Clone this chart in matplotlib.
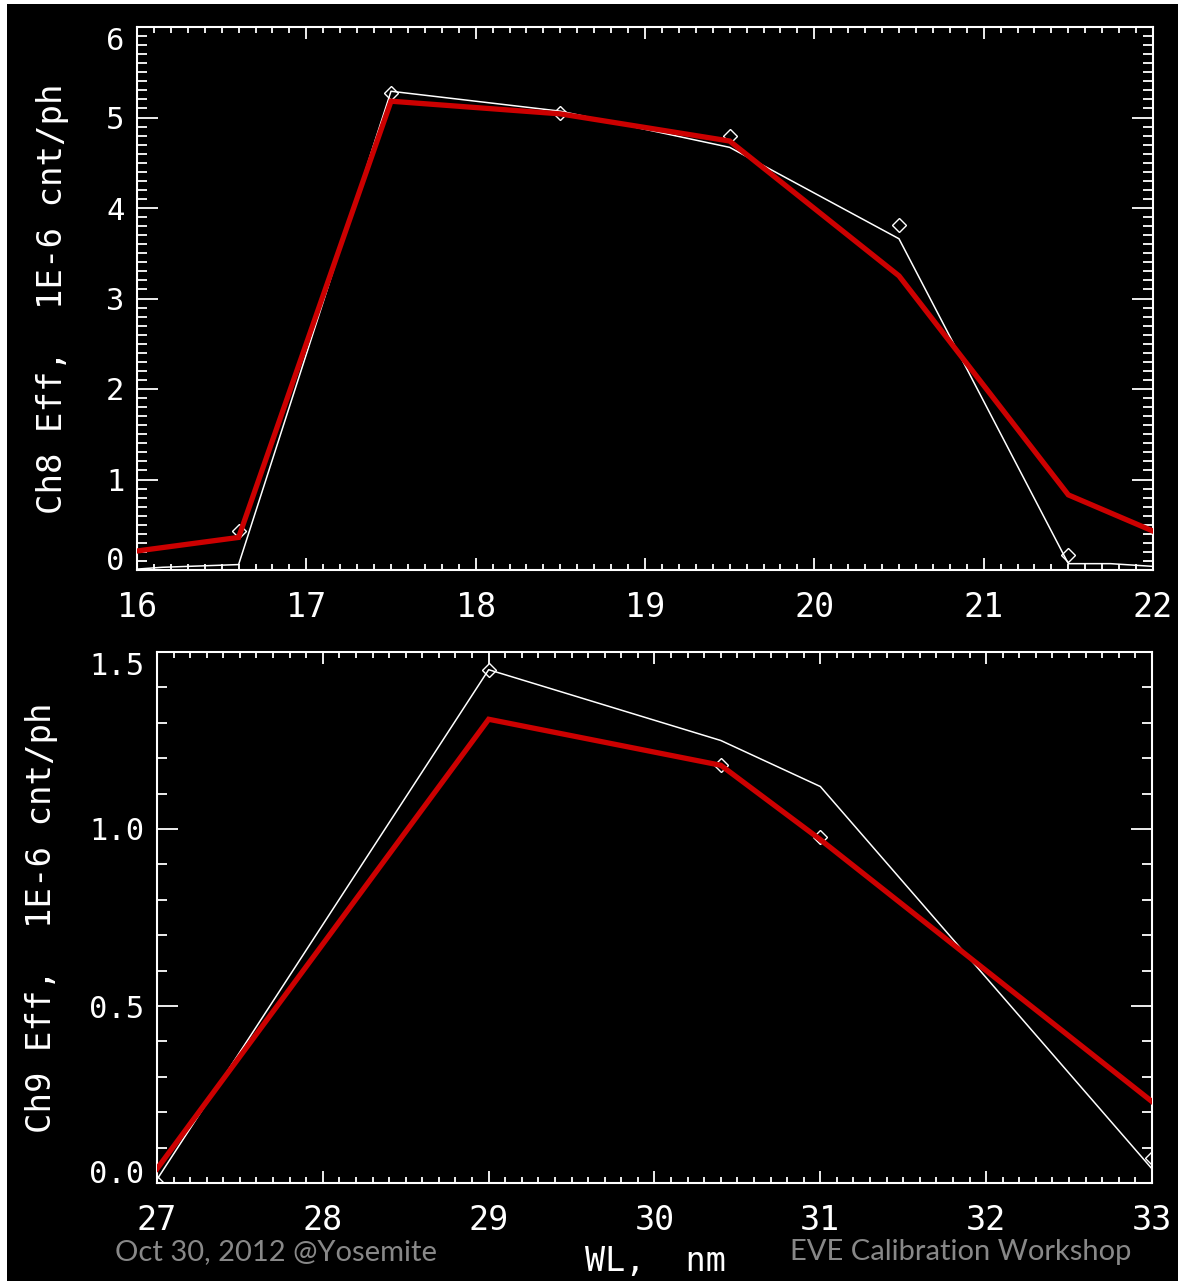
import matplotlib
matplotlib.use("Agg")
import matplotlib.pyplot as plt
from matplotlib.ticker import MultipleLocator
from matplotlib.patches import Rectangle

# ---- Channel 8 efficiency (upper panel) ----
ch8_model_wl = [16.0, 16.15, 16.45, 16.6, 17.5, 18.5, 19.5, 20.5, 21.5, 21.75, 22.0]
ch8_model_eff = [0.01, 0.03, 0.05, 0.06, 5.29, 5.07, 4.67, 3.66, 0.07, 0.07, 0.04]
ch8_meas_wl = [16.6, 17.5, 18.5, 19.5, 20.5, 21.5]
ch8_meas_eff = [0.43, 5.27, 5.05, 4.80, 3.81, 0.17]
ch8_fit_wl = [16.0, 16.6, 17.5, 18.5, 19.5, 20.5, 21.5, 22.0]
ch8_fit_eff = [0.21, 0.36, 5.18, 5.04, 4.74, 3.25, 0.83, 0.43]
ch8_xticks = [16, 17, 18, 19, 20, 21, 22]
ch8_yticks = [0, 1, 2, 3, 4, 5, 6]

# ---- Channel 9 efficiency (lower panel) ----
ch9_model_wl = [27.0, 29.0, 30.4, 31.0, 33.0]
ch9_model_eff = [0.01, 1.45, 1.25, 1.12, 0.04]
ch9_meas_wl = [27.0, 29.0, 30.4, 31.0, 33.0]
ch9_meas_eff = [0.00, 1.45, 1.18, 0.977, 0.07]
ch9_fit_wl = [27.0, 29.0, 30.4, 31.0, 33.0]
ch9_fit_eff = [0.04, 1.31, 1.18, 0.97, 0.23]
ch9_xticks = [27, 28, 29, 30, 31, 32, 33]
ch9_yticks = [0.0, 0.5, 1.0, 1.5]

ch8_label = "Ch8 Eff,  1E-6 cnt/ph"
ch9_label = "Ch9 Eff,  1E-6 cnt/ph"
x_label = "WL,  nm"
footer_left = "Oct 30, 2012 @Yosemite"
footer_right = "EVE Calibration Workshop"

W, H = 1178, 1285
fig = plt.figure(figsize=(W / 100, H / 100), dpi=100, facecolor="white")
fig.patches.append(Rectangle((7 / W, 4 / H), 1 - 7 / W, 1 - 8 / H,
                             transform=fig.transFigure, facecolor="black",
                             edgecolor="none", zorder=-10))

MONO = "DejaVu Sans Mono"
RED = "#cc0000"


def panel(rect, xticks, yticks, yfmt, ylabel, ylabel_x):
    ax = fig.add_axes(rect)
    ax.set_facecolor("black")
    ax.set_xlim(xticks[0], xticks[-1])
    ax.set_ylim(yticks[0], yticks[-1])
    ax.set_xticks(xticks)
    ax.set_yticks(yticks)
    ax.xaxis.set_minor_locator(MultipleLocator(0.1))
    ax.yaxis.set_minor_locator(MultipleLocator(0.1))
    for s in ax.spines.values():
        s.set_color("white")
        s.set_linewidth(1.5)
    ax.tick_params(which="both", direction="in", top=True, right=True,
                   colors="white", width=1.3)
    ax.tick_params(axis="x", which="major", length=8.4, pad=15, labelsize=24)
    ax.tick_params(axis="x", which="minor", length=4.2)
    ax.tick_params(axis="y", which="major", length=15, pad=9, labelsize=22)
    ax.tick_params(axis="y", which="minor", length=7.5)
    ax.yaxis.set_major_formatter(yfmt)
    for lab in ax.get_xticklabels() + ax.get_yticklabels():
        lab.set_family(MONO)
    ticks = ax.yaxis.get_major_ticks()
    ticks[0].label1.set_va("baseline")
    ticks[-1].label1.set_va("top")
    ax.set_ylabel(ylabel, color="white", fontsize=24.5, family=MONO)
    ax.yaxis.set_label_coords(ylabel_x, 0.5)
    return ax


# upper panel
ax1 = panel([137 / W, 1 - 570 / H, 1016 / W, 543 / H], ch8_xticks, ch8_yticks,
            "{x:.0f}", ch8_label, -0.067)
ax1.plot(ch8_model_wl, ch8_model_eff, color="white", lw=1.1, zorder=2)
ax1.plot(ch8_meas_wl, ch8_meas_eff, ls="none", marker="D", ms=7,
         mfc="none", mec="white", mew=1.0, zorder=3)
ax1.plot(ch8_fit_wl, ch8_fit_eff, color=RED, lw=3.8, zorder=4,
         solid_joinstyle="miter")

# lower panel
ax2 = panel([157 / W, 1 - 1183 / H, 995 / W, 531 / H], ch9_xticks, ch9_yticks,
            "{x:.1f}", ch9_label, -0.099)
ax2.plot(ch9_model_wl, ch9_model_eff, color="white", lw=1.1, zorder=2)
ax2.plot(ch9_meas_wl, ch9_meas_eff, ls="none", marker="D", ms=7,
         mfc="none", mec="white", mew=1.0, zorder=3)
ax2.plot(ch9_fit_wl, ch9_fit_eff, color=RED, lw=3.8, zorder=4,
         solid_joinstyle="miter")

fig.text(655 / W, 1 - 1262 / H, x_label, color="white", fontsize=24,
         family=MONO, ha="center", va="center")

fig.text(115 / W, 1 - 1252 / H, footer_left, color="#888888", fontsize=21,
         family="Lato", ha="left", va="center")
fig.text(790 / W, 1 - 1252 / H, footer_right, color="#888888", fontsize=21,
         family="Lato", ha="left", va="center")

fig.savefig("out.png", dpi=100, facecolor="white")
